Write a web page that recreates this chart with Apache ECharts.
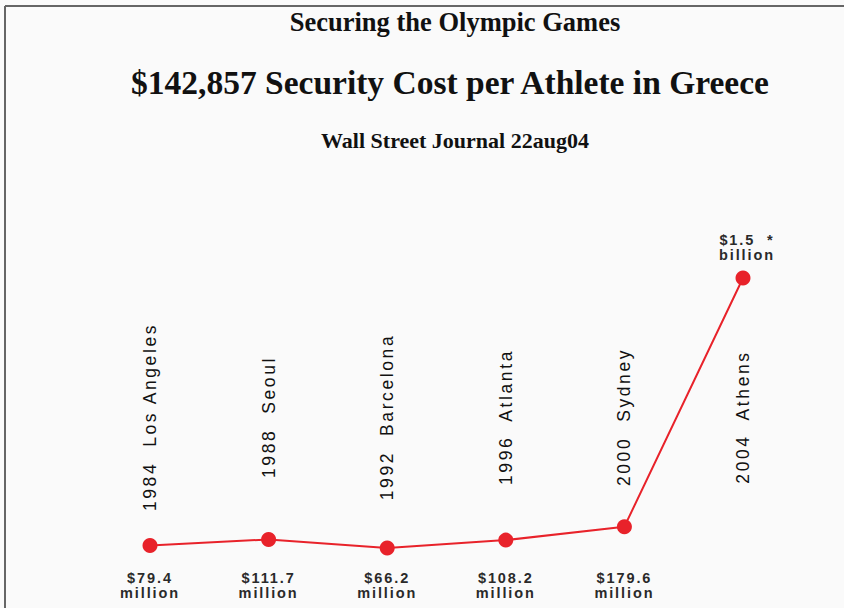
<!DOCTYPE html>
<html>
<head>
<meta charset="utf-8">
<script src="https://cdn.jsdelivr.net/npm/echarts@6/dist/echarts.min.js"></script>
<style>
  html, body { margin: 0; padding: 0; background: #fafafa; }
  #chart { width: 844px; height: 608px; }
  #chart text { white-space: pre; }
  #chart text[style*="Liberation Sans"], #chart text[font-family*="Liberation Sans"] { letter-spacing: 2.6px; }
  #chart text[style*="Liberation Sans"][style*="bold"], #chart text[font-family*="Liberation Sans"][font-weight="bold"] { letter-spacing: 1.9px; }
</style>
</head>
<body>
<div id="chart"></div>
<script>
const years = ['1984', '1988', '1992', '1996', '2000', '2004'];
const cities = ['Los Angeles', 'Seoul', 'Barcelona', 'Atlanta', 'Sydney', 'Athens'];
const costMillions = [79.4, 111.7, 66.2, 108.2, 179.6, 1500];
const costAmounts = ['$79.4', '$111.7', '$66.2', '$108.2', '$179.6', '$1.5  *'];
const costUnits = ['million', 'million', 'million', 'million', 'million', 'billion'];

const categoryLabels = years.map((y, i) => y + '  ' + cities[i]);
const isBillion = costUnits.map(u => u === 'billion');
const costTexts = costAmounts.map((a, i) => a + '\n' + costUnits[i]);
// amounts in millions are printed along the bottom; the billion figure sits above its point
const bottomLabels = costTexts.map((t, i) => isBillion[i] ? '' : t);
const RED = '#e8222a';

const seriesData = costMillions.map((v, i) => ({
  value: v,
  label: isBillion[i]
    ? { show: true, position: 'top', distance: 8, offset: [4, 0], formatter: costTexts[i] }
    : { show: false }
}));

const sansLabel = { fontFamily: 'Liberation Sans', fontWeight: 'bold', fontSize: 14.5, lineHeight: 15, color: '#2a2a2a' };

const chart = echarts.init(document.getElementById('chart'), null, { renderer: 'svg' });
chart.setOption({
  backgroundColor: '#fafafa',
  animation: false,
  title: [
    { text: 'Securing the Olympic Games', left: 455, top: 8, textAlign: 'center', padding: 0,
      textStyle: { fontFamily: 'Liberation Serif', fontWeight: 'bold', fontSize: 26.5, color: '#111' } },
    { text: '$142,857 Security Cost per Athlete in Greece', left: 450, top: 65, textAlign: 'center', padding: 0,
      textStyle: { fontFamily: 'Liberation Serif', fontWeight: 'bold', fontSize: 33.5, color: '#111' } },
    { text: 'Wall Street Journal 22aug04', left: 455, top: 129, textAlign: 'center', padding: 0,
      textStyle: { fontFamily: 'Liberation Serif', fontWeight: 'bold', fontSize: 22, color: '#111' } }
  ],
  graphic: [
    { type: 'line', shape: { x1: 5, y1: 6, x2: 844, y2: 6 }, style: { stroke: '#666', lineWidth: 2 } },
    { type: 'line', shape: { x1: 5, y1: 6, x2: 5, y2: 608 }, style: { stroke: '#666', lineWidth: 2 } }
  ],
  grid: { left: 90.7, width: 711.6, top: 278, height: 282.5 },
  xAxis: [
    {
      type: 'category',
      data: categoryLabels,
      boundaryGap: true,
      position: 'bottom',
      offset: -143.5,
      axisLine: { show: false },
      axisTick: { show: false },
      splitLine: { show: false },
      axisLabel: {
        rotate: 90, margin: 0, align: 'center', verticalAlign: 'middle',
        interval: 0,
        fontFamily: 'Liberation Sans', fontSize: 17.5, color: '#111'
      }
    },
    {
      type: 'category',
      data: bottomLabels,
      boundaryGap: true,
      position: 'bottom',
      offset: 0,
      axisLine: { show: false },
      axisTick: { show: false },
      splitLine: { show: false },
      axisLabel: Object.assign({ interval: 0, margin: 10, align: 'center', verticalAlign: 'top' }, sansLabel)
    }
  ],
  yAxis: {
    type: 'value', min: 0, max: 1500, show: false
  },
  series: [{
    type: 'line',
    xAxisIndex: 0,
    data: seriesData,
    symbol: 'circle',
    symbolSize: 15,
    lineStyle: { color: RED, width: 2 },
    itemStyle: { color: RED },
    label: Object.assign({ align: 'center' }, sansLabel)
  }]
});
</script>
</body>
</html>
